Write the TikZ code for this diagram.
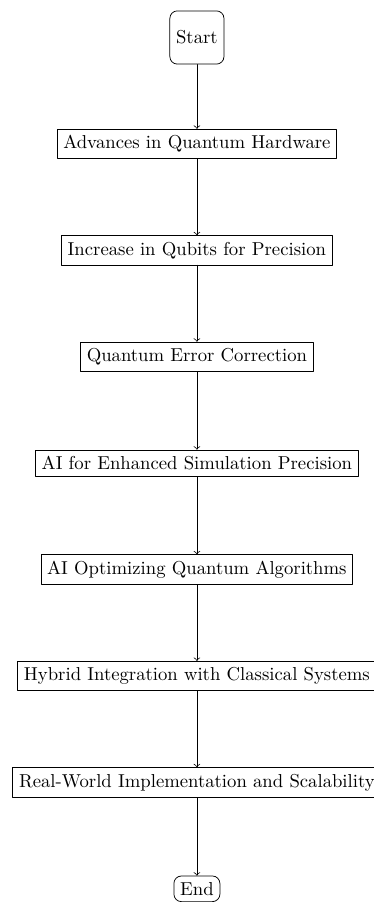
\documentclass[tikz,border=0pt]{standalone}
\usetikzlibrary{arrows}
\begin{document}
\begin{tikzpicture}[line join=round, line cap=round, >=to]
			\tikzset{startstop/.style={draw, rounded corners, minimum width=1cm, minimum height=1cm},
				process/.style={draw, rectangle}}
			\useasboundingbox (-105.3pt,20.05pt) rectangle (94.7pt,-462.3pt);
			\node[startstop] (start) at (0,0) {Start};
			\node[process] (hw) at (0,-2) {Advances in Quantum Hardware};
			\node[process] (qubits) at (0,-4) {Increase in Qubits for Precision};
			\node[process] (qec) at (0,-6) {Quantum Error Correction};
			\node[process] (aisim) at (0,-8) {AI for Enhanced Simulation Precision};
			\node[process] (aialg) at (0,-10) {AI Optimizing Quantum Algorithms};
			\node[process] (hybrid) at (0,-12) {Hybrid Integration with Classical Systems};
			\node[process] (scale) at (0,-14) {Real-World Implementation and Scalability};
			\node[draw, rounded corners] (end) at (0,-16) {End};
			\foreach \a/\b in {start/hw, hw/qubits, qubits/qec, qec/aisim, aisim/aialg, aialg/hybrid, hybrid/scale, scale/end}
				\draw[->] (\a) -- (\b);
		\end{tikzpicture}
\end{document}
